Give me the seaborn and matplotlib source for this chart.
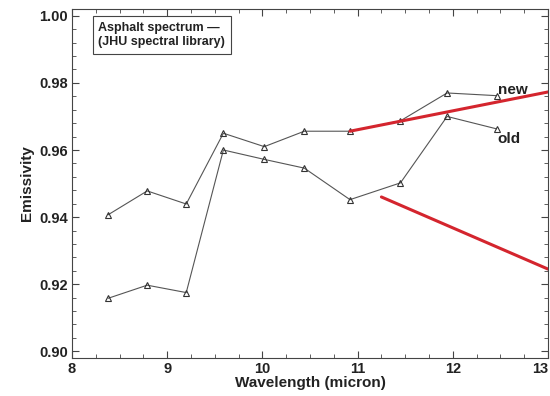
import matplotlib
matplotlib.use("Agg")
import matplotlib.pyplot as plt
import seaborn as sns
import pandas as pd
from matplotlib.ticker import MultipleLocator

# Data
wavelength = [8.38, 8.79, 9.20, 9.59, 10.02, 10.44, 10.92, 11.45, 11.94, 12.46]
emis_new = [0.9407, 0.9478, 0.9439, 0.9650, 0.9610, 0.9656, 0.9656, 0.9687, 0.9770, 0.9762]
emis_old = [0.9158, 0.9197, 0.9175, 0.9600, 0.9572, 0.9546, 0.9452, 0.9502, 0.9700, 0.9663]
red1_x = [10.92, 13.0]
red1_y = [0.9656, 0.9773]
red2_x = [11.25, 13.0]
red2_y = [0.9460, 0.9245]
series_labels = ["new", "old"]
x_ticks = [8, 9, 10, 11, 12, 13]
y_ticks = [0.90, 0.92, 0.94, 0.96, 0.98, 1.00]
y_ticklabels = ["0.90", "0.92", "0.94", "0.96", "0.98", "1.00"]

sns.set_style("ticks")
plt.rcParams["font.family"] = ["Liberation Sans", "DejaVu Sans"]

fig = plt.figure(figsize=(5.5, 3.96), dpi=100)
ax = fig.add_axes([0.1309, 0.096, 0.8655, 0.881])

df = pd.DataFrame({
    "x": wavelength * 2,
    "y": emis_new + emis_old,
    "s": [series_labels[0]] * len(wavelength) + [series_labels[1]] * len(wavelength),
})
sns.lineplot(data=df, x="x", y="y", units="s", estimator=None, ax=ax,
             color="#555555", lw=0.8, marker="^", markersize=4.5,
             markerfacecolor="none", markeredgecolor="#333333", markeredgewidth=0.8,
             legend=False)

sns.lineplot(x=red1_x, y=red1_y, ax=ax, color="#d4252e", lw=2.2, legend=False)
sns.lineplot(x=red2_x, y=red2_y, ax=ax, color="#d4252e", lw=2.2, legend=False)

ax.text(12.47, 0.9778, series_labels[0], fontsize=11, fontweight="bold", color="#222222", va="center")
ax.text(12.47, 0.9633, series_labels[1], fontsize=11, fontweight="bold", color="#222222", va="center")

ax.set_xlim(8, 13)
ax.set_ylim(0.898, 1.002)
ax.set_xticks(x_ticks)
ax.xaxis.set_minor_locator(MultipleLocator(0.25))
ax.set_yticks(y_ticks)
ax.set_yticklabels(y_ticklabels)
ax.yaxis.set_minor_locator(MultipleLocator(0.004))
ax.tick_params(which="both", direction="in", top=True, right=True, color="#444444")
ax.tick_params(which="major", length=5, width=0.8, labelsize=10.5, pad=3)
ax.tick_params(which="minor", length=3, width=0.6)
for lab in ax.get_xticklabels() + ax.get_yticklabels():
    lab.set_fontweight("bold")
    lab.set_color("#222222")
ax.get_xticklabels()[-1].set_horizontalalignment("right")
for sp in ax.spines.values():
    sp.set_color("#444444")
    sp.set_linewidth(0.8)

ax.set_xlabel("Wavelength (micron)", fontsize=11, fontweight="bold", color="#222222", labelpad=0)
ax.set_ylabel("Emissivity", fontsize=11, fontweight="bold", color="#222222", labelpad=4)

ax.text(0.055, 0.963, "Asphalt spectrum —\n(JHU spectral library)", transform=ax.transAxes,
        fontsize=9, fontweight="bold", color="#222222", va="top", ha="left", linespacing=1.25,
        bbox=dict(boxstyle="square,pad=0.45", fc="white", ec="#444444", lw=0.8))

fig.savefig("out.png", dpi=100)
